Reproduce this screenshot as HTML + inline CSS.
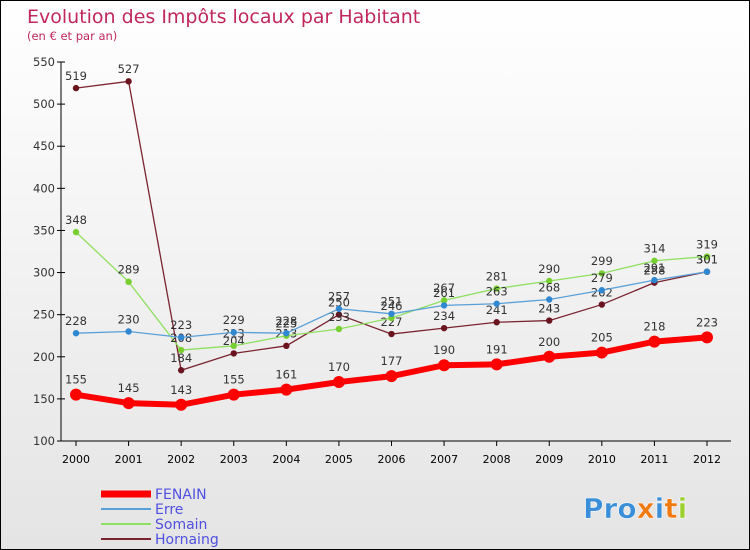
<!DOCTYPE html>
<html><head><meta charset="utf-8"><style>
body{margin:0}
#c{width:748px;height:548px;border:1px solid #000;background:linear-gradient(#fff,#e4e4e4);position:relative;font-family:"DejaVu Sans","Liberation Sans",sans-serif;overflow:hidden}
text{font-family:"DejaVu Sans","Liberation Sans",sans-serif}
</style></head><body>
<div id="c">
<svg id="s" width="748" height="548">
<text x="26" y="22" font-size="19" fill="#c0285a">Evolution des Impôts locaux par Habitant</text>
<text x="26" y="39" font-size="11.5" fill="#c0285a">(en € et par an)</text>
<text x="582" y="517" font-size="28" font-weight="bold" fill="#3a8fd8" stroke="#fff" stroke-width="0.5">Pro<tspan fill="#f07a10">x</tspan><tspan fill="#3a8fd8">i</tspan><tspan fill="#f07a10">t</tspan><tspan fill="#9cd030">i</tspan></text>
</svg></div>
<script>
const years=["2000","2001","2002","2003","2004","2005","2006","2007","2008","2009","2010","2011","2012"];
const fenain=[155,145,143,155,161,170,177,190,191,200,205,218,223];
const erre=[228,230,223,229,228,257,251,261,263,268,279,291,301];
const somain=[348,289,208,213,225,233,246,267,281,290,299,314,319];
const hornaing=[519,527,184,204,213,250,227,234,241,243,262,288,301];
const yTicks=[100,150,200,250,300,350,400,450,500,550];
const NS="http://www.w3.org/2000/svg",s=document.getElementById('s');
const X=i=>75+i*(706-75)/(years.length-1);
const Y=v=>440-(v-100)*(379/450);
function el(t,a,p){const e=document.createElementNS(NS,t);for(const k in a)e.setAttribute(k,a[k]);(p||s).appendChild(e);return e;}
let ax=el('line',{x1:60,y1:61,x2:60,y2:440,stroke:'#000'});


let bx=el('line',{x1:60,y1:440,x2:730,y2:440,stroke:'#000'});


yTicks.forEach(v=>{
 el('line',{x1:56,y1:Y(v),x2:64,y2:Y(v),stroke:'#000'});
 let t=el('text',{x:54,y:Y(v)+4,'font-size':11.5,'text-anchor':'end',fill:'#333'});t.textContent=v;
 
 
});
years.forEach((y,i)=>{
 el('line',{x1:X(i),y1:440,x2:X(i),y2:445,stroke:'#000'});
 let t=el('text',{x:X(i),y:462,'font-size':11,'text-anchor':'middle',fill:'#000'});t.textContent=y;
 
 
});
function series(d,col,w,r,name,dot){
 let g=el('g',{});
 
 
 el('polyline',{points:d.map((v,i)=>X(i)+','+Y(v)).join(' '),fill:'none',stroke:col,'stroke-width':w},g);
 d.forEach((v,i)=>{
  let c=el('circle',{cx:X(i),cy:Y(v),r:r,fill:dot},g);
  
  
  let t=el('text',{x:X(i),y:Y(v)-(r+5),'font-size':11.5,'text-anchor':'middle',fill:'#333'},g);t.textContent=v;
  
  
 });
}
series(hornaing,'#7a2430',1.3,3.2,'hornaing','#6a1420');
series(somain,'#8fe060',1.3,3.2,'somain','#78d030');
series(erre,'#5aa0d8',1.3,3.2,'erre','#3088d0');
series(fenain,'#ff0000',6,6,'fenain','#ff0000');
const leg=[['FENAIN','#ff0000',7],['Erre','#5aa0d8',2],['Somain','#8fe060',2],['Hornaing','#7a2430',2]];
leg.forEach((l,i)=>{
 let g=el('g',{});
 
 
 let y=493+i*15;
 el('line',{x1:100,y1:y,x2:150,y2:y,stroke:l[1],'stroke-width':l[2]},g);
 let t=el('text',{x:154,y:y+5,'font-size':14,fill:'#5050e0'},g);t.textContent=l[0];
});
</script></body></html>
